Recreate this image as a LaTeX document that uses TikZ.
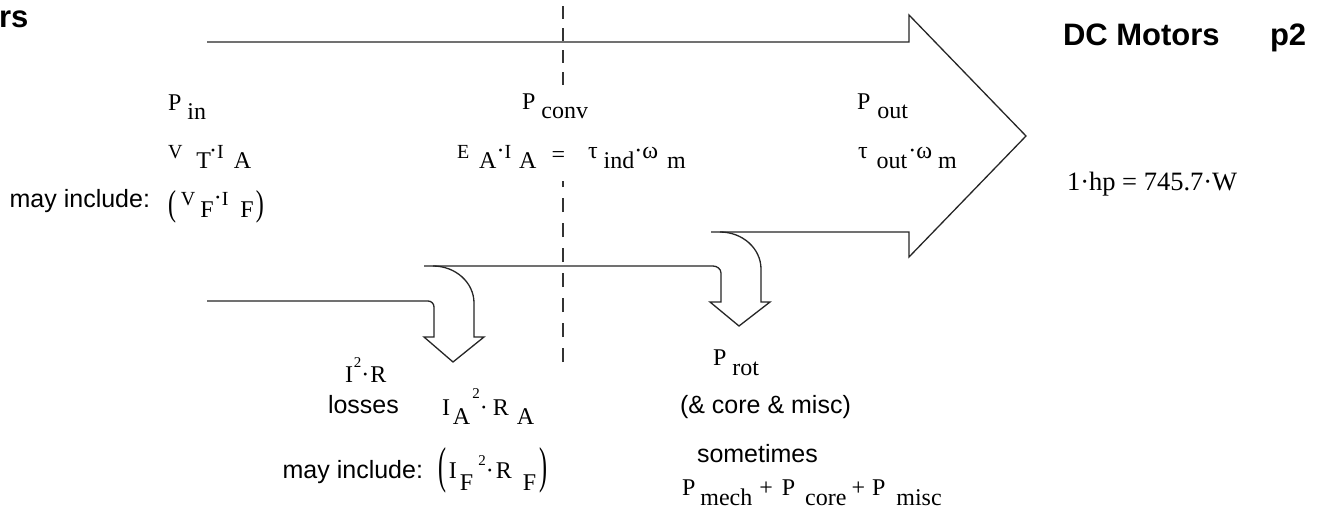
\documentclass[tikz,border=0pt]{standalone}
\usepackage{fontspec}
\usepackage{graphicx}
\setmainfont{Liberation Serif}
\newfontfamily\arl{Liberation Sans}
\newcommand\mcsub[2][10pt]{\lower#1\hbox{#2}}
\newcommand\mcsm[1]{{\fontsize{20}{20}\selectfont #1}}
\newcommand\mcsup[2][13pt]{\raise#1\hbox{\fontsize{15}{15}\selectfont #2}}
\newcommand\mcparA[1]{\raisebox{-10pt}{\scalebox{1}[1.5]{#1}}}
\newcommand\mcparB[1]{\raisebox{-4pt}{\scalebox{1}[2.1]{#1}}}
\begin{document}
\begin{tikzpicture}[x=1pt,y=-1pt,
  outl/.style={line width=1.3pt, draw=black!85, line join=miter},
  dashln/.style={line width=1.3pt, draw=black!80, dash pattern=on 14pt off 11pt},
  dashtop/.style={line width=1.3pt, draw=black!80, dash pattern=on 13pt off 9pt},
  tx/.style={inner sep=0pt, outer sep=0pt, anchor=base west, font=\fontsize{24}{26}\selectfont},
  sx/.style={inner sep=0pt, outer sep=0pt, anchor=base west, font=\arl\fontsize{25}{28}\selectfont},
  hx/.style={inner sep=0pt, outer sep=0pt, anchor=base west, font=\arl\bfseries\fontsize{31}{34}\selectfont}]
\useasboundingbox (0,0) rectangle (1325,508);
\fill[white] (0,0) rectangle (1325,508);

% outlines
\draw[outl] (207,42) -- (909,42) -- (909,15) -- (1026,136) -- (909,257) -- (909,232) -- (711,232);
\draw[outl] (720,232) .. controls (742.6,232) and (761,248.6) .. (761,269) -- (761,302) -- (770,302) -- (739,326) -- (710,302) -- (721,302) -- (721,273) .. controls (721,269) and (717,266) .. (713,266) -- (424,266);
\draw[outl] (433,266) .. controls (455.6,266) and (474,282.6) .. (474,303) -- (474,337) -- (484,337) -- (453,362) -- (424,337) -- (434,337) -- (434,307) .. controls (434,303.7) and (431.3,301) .. (428,301) -- (207,301);

% dashed divider (interrupted behind the P_conv text)
\coordinate (dtop) at (563,0);
\coordinate (dgapa) at (563,85);
\coordinate (dgapb) at (563,181);
\coordinate (dbot) at (563,362);
\draw[dashtop] (dgapa) -- (dtop);
\draw[dashln] (dbot) -- (dgapb);

% titles
\node[hx] (t0) at (-1,28) {rs};
\node[hx] (t1) at (1063,46) {DC Motors};
\node[hx] (t2) at (1270,46) {p2};

% input block
\node[tx] (pin) at (168,111) {P\hspace{6pt}\mcsub[9pt]{in}};
\node[tx] (vtia) at (168,158) {\mcsm{V}\hspace{14pt}\mcsub{T}\hspace{-2pt}·\mcsm{I}\hspace{10pt}\mcsub{A}};
\node[sx, anchor=base east] (mi1) at (150,207) {may include:};
\node[tx] (vfif) at (168,205) {\mcparA{(}\hspace{5pt}\mcsm{V}\hspace{5pt}\mcsub[12pt]{F}·\mcsm{I}\hspace{12pt}\mcsub[12pt]{F}\hspace{2pt}\mcparA{)}};

% converted block
\node[tx] (pconv) at (522,110) {P\hspace{6pt}\mcsub[9pt]{conv}};
\node[tx] (eaia) at (457,158) {\mcsm{E}\hspace{10pt}\mcsub{A}·\mcsm{I}\hspace{8pt}\mcsub{A}\hspace{15pt}\mcsub[4pt]{=}\hspace{23pt}τ\hspace{6pt}\mcsub{ind}·ω\hspace{9pt}\mcsub{m}};

% output block
\node[tx] (pout) at (857,110) {P\hspace{7pt}\mcsub[9pt]{out}};
\node[tx] (tout) at (858,158) {τ\hspace{9pt}\mcsub{out}\hspace{1pt}·ω\hspace{6pt}\mcsub{m}};
\node[tx, font=\fontsize{26.5}{29}\selectfont] (hp) at (1067,190) {1·hp = 745.7·W};

% copper losses
\node[tx] (i2r) at (345,382) {I\hspace{1pt}\mcsup[15pt]{2}·\hspace{1pt}R};
\node[sx] (loss) at (328,413) {losses};
\node[tx] (iara) at (442,415) {I\hspace{3pt}\mcsub[9pt]{A}\hspace{2pt}\mcsup[17pt]{2}·\hspace{5pt}R\hspace{8pt}\mcsub[9pt]{A}};
\node[sx, anchor=base east] (mi2) at (423,478) {may include:};
\node[tx] (ifrf) at (438,478) {\mcparB{(}\hspace{3pt}I\hspace{3pt}\mcsub[12pt]{F}\hspace{5pt}\mcsup[13pt]{2}·\hspace{2pt}R\hspace{11pt}\mcsub[12pt]{F}\hspace{3pt}\mcparB{)}};

% rotational losses
\node[tx] (prot) at (713,365) {P\hspace{6pt}\mcsub{rot}};
\node[sx] (core) at (680,413) {(\& core \& misc)};
\node[sx] (some) at (697,462) {sometimes};
\node[tx] (pmech) at (682,495) {P\hspace{5pt}\mcsub{mech}\hspace{7pt}+\hspace{9pt}P\hspace{10pt}\mcsub{core}\hspace{5pt}+\hspace{7pt}P\hspace{11pt}\mcsub{misc}};
\end{tikzpicture}
\end{document}
